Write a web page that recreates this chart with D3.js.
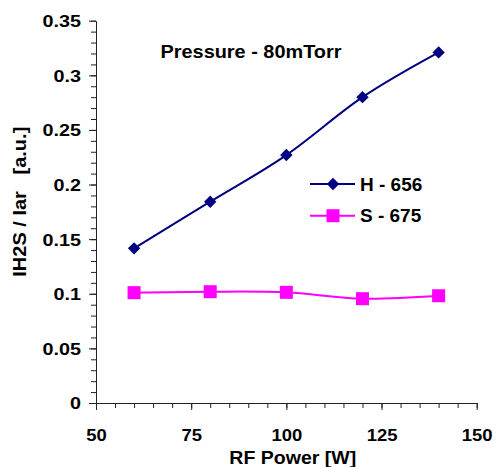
<!DOCTYPE html>
<html>
<head>
<meta charset="utf-8">
<script src="https://cdn.jsdelivr.net/npm/d3@7"></script>
<style>
  body { margin: 0; background: #fff; }
  text { font-family: Arial, "Liberation Sans", sans-serif; font-weight: bold; fill: #000; }
</style>
</head>
<body>
<div id="chart"></div>
<script>
// values
var power = [60, 80, 100, 120, 140];
var h656 = [0.1416, 0.1843, 0.227, 0.280, 0.321];
var s675 = [0.101, 0.1019, 0.1013, 0.0955, 0.0982];
var seriesNames = ["H - 656", "S - 675"];
var xTicks = [50, 75, 100, 125, 150];
var yTicks = [0, 0.05, 0.1, 0.15, 0.2, 0.25, 0.3, 0.35];

var W = 496, H = 467;
var svg = d3.select("#chart").append("svg").attr("width", W).attr("height", H);

var x = d3.scaleLinear().domain([50, 150]).range([96, 476.7]);
var y = d3.scaleLinear().domain([0, 0.35]).range([403, 20.7]);

// minor ticks first
svg.append("g")
  .attr("transform", "translate(96,0)")
  .call(d3.axisLeft(y).tickValues(d3.range(0, 0.3501, 0.01)).tickSize(5).tickFormat(""))
  .call(g => g.select(".domain").remove());
svg.append("g")
  .attr("transform", "translate(0,403)")
  .call(d3.axisBottom(x).tickValues(d3.range(50, 151, 5)).tickSize(5).tickFormat(""))
  .call(g => g.select(".domain").remove());

var yAxis = svg.append("g")
  .attr("transform", "translate(96,0)")
  .call(d3.axisLeft(y).tickValues(yTicks).tickSize(7).tickSizeOuter(0).tickFormat(d => d3.format("")(+d.toFixed(2))));
yAxis.selectAll("text")
  .attr("x", 0).attr("dy", "0.36em")
  .attr("transform", "translate(-15,0) scale(1.2,1)")
  .style("font-size", "16.5px");

var xAxis = svg.append("g")
  .attr("transform", "translate(0,403)")
  .call(d3.axisBottom(x).tickValues(xTicks).tickSize(7).tickSizeOuter(0));
xAxis.selectAll("text")
  .attr("y", 0).attr("dy", 0)
  .attr("transform", "translate(0,38) scale(1.12,1)")
  .style("font-size", "16.5px");

svg.selectAll(".domain, .tick line").attr("stroke", "#222");

var line = d3.line()
  .x((d, i) => x(power[i]))
  .y(d => y(d))
  .curve(d3.curveCardinal.tension(0));

var diamond = d3.symbol().type(d3.symbolDiamond2).size(98);

// H - 656
svg.append("path").datum(h656).attr("d", line)
  .attr("fill", "none").attr("stroke", "#000080").attr("stroke-width", 2);
svg.selectAll(".hpt").data(h656).join("path").attr("class", "hpt")
  .attr("d", diamond)
  .attr("transform", (d, i) => `translate(${x(power[i])},${y(d)})`)
  .attr("fill", "#000080");

// S - 675
svg.append("path").datum(s675).attr("d", line)
  .attr("fill", "none").attr("stroke", "#ff00ff").attr("stroke-width", 2);
svg.selectAll(".spt").data(s675).join("rect").attr("class", "spt")
  .attr("x", (d, i) => x(power[i]) - 6.5)
  .attr("y", d => y(d) - 6.5)
  .attr("width", 13).attr("height", 13)
  .attr("fill", "#ff00ff");

// legend
var legend = svg.append("g");
[[184, "#000080", "d"], [215.7, "#ff00ff", "s"]].forEach(function(r, i) {
  legend.append("line").attr("x1", 310).attr("x2", 355).attr("y1", r[0]).attr("y2", r[0])
    .attr("stroke", r[1]).attr("stroke-width", 2);
  if (r[2] === "d") {
    legend.append("path").attr("d", diamond).attr("transform", `translate(333,${r[0]})`).attr("fill", r[1]);
  } else {
    legend.append("rect").attr("x", 326.5).attr("y", r[0] - 6.5).attr("width", 13).attr("height", 13).attr("fill", r[1]);
  }
  legend.append("text").attr("x", 360).attr("y", r[0] + 6.7)
    .style("font-size", "19px").text(seriesNames[i]);
});

// title and axis labels
svg.append("text").attr("x", 251).attr("y", 58.3).attr("text-anchor", "middle")
  .style("font-size", "18.5px").attr("textLength", 181).attr("lengthAdjust", "spacingAndGlyphs")
  .text("Pressure - 80mTorr");
svg.append("text").attr("x", 292.8).attr("y", 463.5).attr("text-anchor", "middle")
  .style("font-size", "18.5px").attr("textLength", 127).attr("lengthAdjust", "spacingAndGlyphs")
  .text("RF Power [W]");
svg.append("text")
  .attr("transform", "translate(26,201.7) rotate(-90)")
  .attr("text-anchor", "middle")
  .style("font-size", "18.5px").style("white-space", "pre")
  .attr("textLength", 150).attr("lengthAdjust", "spacingAndGlyphs")
  .text("IH2S / Iar   [a.u.]");
</script>
</body>
</html>
